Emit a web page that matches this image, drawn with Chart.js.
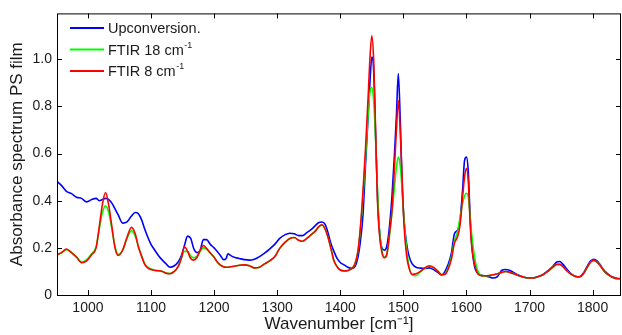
<!DOCTYPE html>
<html lang="en-US">
<head>
<meta charset="utf-8">
<title>Absorbance spectrum PS film</title>
<script src="https://cdn.jsdelivr.net/npm/chart.js@4.4.1/dist/chart.umd.min.js"></script>
<style>
  html, body { margin: 0; padding: 0; background: #fff; }
  #chart { display: block; }
</style>
</head>
<body>
<canvas id="chart" width="622" height="335"></canvas>
<script>
// wavenumber grid [cm-1], shared by the three spectra
const wavenumber = [
  952, 958, 966, 974, 982, 990, 998, 1006, 1013, 1018,
  1023, 1028, 1033, 1038, 1043, 1048, 1055, 1062, 1069, 1075,
  1080, 1085, 1090, 1095, 1100, 1106, 1112, 1118, 1124, 1130,
  1137, 1143, 1148, 1153, 1158, 1163, 1168, 1173, 1178, 1183,
  1188, 1194, 1200, 1205, 1210, 1215, 1219, 1222, 1226, 1232,
  1240, 1248, 1256, 1264, 1272, 1280, 1288, 1296, 1304, 1312,
  1320, 1327, 1334, 1340, 1347, 1354, 1360, 1366, 1371, 1376,
  1380, 1385, 1390, 1395, 1400, 1406, 1412, 1418, 1423, 1428,
  1432, 1436, 1440, 1444, 1447, 1450, 1453, 1456, 1459, 1462,
  1466, 1470, 1474, 1478, 1482, 1486, 1489, 1492, 1495, 1498,
  1501, 1505, 1509, 1514, 1520, 1527, 1534, 1541, 1548, 1555,
  1561, 1566, 1571, 1576, 1581, 1586, 1590, 1594, 1597, 1600,
  1603, 1606, 1609, 1613, 1617, 1622, 1628, 1635, 1642, 1649,
  1656, 1662, 1668, 1675, 1682, 1690, 1698, 1706, 1714, 1722,
  1730, 1737, 1743, 1748, 1753, 1759, 1765, 1772, 1779, 1786,
  1792, 1797, 1802, 1807, 1812, 1818, 1825, 1832, 1840, 1846
];

const upconversion = [
  0.48, 0.465, 0.44, 0.43, 0.415, 0.41, 0.395, 0.405, 0.41, 0.40,
  0.405, 0.41, 0.405, 0.39, 0.365, 0.34, 0.305, 0.31, 0.335, 0.35,
  0.345, 0.32, 0.28, 0.245, 0.215, 0.19, 0.167, 0.148, 0.132, 0.118,
  0.124, 0.14, 0.165, 0.21, 0.25, 0.24, 0.195, 0.18, 0.19, 0.235,
  0.235, 0.215, 0.2, 0.185, 0.168, 0.15, 0.155, 0.175, 0.168, 0.16,
  0.155, 0.15, 0.148, 0.152, 0.163, 0.178, 0.195, 0.215, 0.24, 0.255,
  0.262, 0.26, 0.252, 0.252, 0.265, 0.278, 0.293, 0.308, 0.31, 0.30,
  0.27, 0.22, 0.185, 0.155, 0.138, 0.128, 0.118, 0.113, 0.12, 0.16,
  0.23, 0.34, 0.55, 0.75, 0.9, 1.01, 0.95, 0.68, 0.42, 0.28,
  0.2, 0.19, 0.21, 0.29, 0.42, 0.6, 0.76, 0.94, 0.75, 0.47,
  0.32, 0.22, 0.165, 0.132, 0.118, 0.114, 0.113, 0.115, 0.108, 0.095,
  0.085, 0.1, 0.13, 0.175, 0.26, 0.275, 0.32, 0.45, 0.57, 0.585,
  0.52, 0.32, 0.2, 0.12, 0.095, 0.085, 0.082, 0.078, 0.072, 0.078,
  0.105, 0.108, 0.105, 0.095, 0.085, 0.076, 0.072, 0.073, 0.078, 0.088,
  0.105, 0.122, 0.14, 0.142, 0.13, 0.11, 0.092, 0.08, 0.077, 0.095,
  0.125, 0.145, 0.152, 0.145, 0.128, 0.105, 0.088, 0.076, 0.07, 0.07
];

const ftir18 = [
  0.17, 0.178, 0.192, 0.18, 0.162, 0.14, 0.15, 0.175, 0.205, 0.28,
  0.35, 0.378, 0.35, 0.28, 0.205, 0.172, 0.19, 0.24, 0.272, 0.25,
  0.205, 0.168, 0.133, 0.118, 0.11, 0.105, 0.103, 0.1, 0.093, 0.091,
  0.1, 0.122, 0.155, 0.185, 0.185, 0.165, 0.158, 0.165, 0.185, 0.2,
  0.195, 0.178, 0.16, 0.14, 0.127, 0.12, 0.118, 0.118, 0.12, 0.122,
  0.126, 0.128, 0.124, 0.115, 0.118, 0.132, 0.145, 0.162, 0.198, 0.222,
  0.24, 0.244, 0.232, 0.228, 0.24, 0.256, 0.27, 0.29, 0.298, 0.28,
  0.25, 0.2, 0.145, 0.12, 0.106, 0.102, 0.104, 0.112, 0.13, 0.185,
  0.28, 0.42, 0.58, 0.76, 0.86, 0.88, 0.82, 0.66, 0.45, 0.28,
  0.19, 0.16, 0.175, 0.25, 0.35, 0.46, 0.54, 0.585, 0.55, 0.45,
  0.32, 0.2, 0.12, 0.085, 0.082, 0.098, 0.113, 0.122, 0.115, 0.1,
  0.086, 0.09, 0.115, 0.16, 0.23, 0.27, 0.33, 0.39, 0.42, 0.432,
  0.415, 0.33, 0.24, 0.16, 0.11, 0.085, 0.08, 0.082, 0.085, 0.09,
  0.096, 0.1, 0.097, 0.09, 0.083, 0.076, 0.072, 0.072, 0.078, 0.087,
  0.102, 0.118, 0.13, 0.13, 0.12, 0.103, 0.09, 0.08, 0.077, 0.092,
  0.12, 0.14, 0.147, 0.14, 0.125, 0.102, 0.085, 0.074, 0.069, 0.069
];

const ftir8 = [
  0.172, 0.18, 0.195, 0.18, 0.16, 0.137, 0.145, 0.172, 0.2, 0.29,
  0.385, 0.435, 0.38, 0.29, 0.2, 0.168, 0.19, 0.245, 0.287, 0.26,
  0.205, 0.165, 0.13, 0.115, 0.108, 0.104, 0.103, 0.1, 0.092, 0.09,
  0.1, 0.12, 0.155, 0.205, 0.185, 0.155, 0.148, 0.16, 0.19, 0.21,
  0.198, 0.178, 0.16, 0.14, 0.127, 0.12, 0.118, 0.118, 0.12, 0.122,
  0.126, 0.128, 0.124, 0.115, 0.118, 0.132, 0.145, 0.162, 0.198, 0.222,
  0.24, 0.244, 0.232, 0.228, 0.24, 0.256, 0.27, 0.29, 0.298, 0.28,
  0.25, 0.2, 0.145, 0.12, 0.106, 0.102, 0.104, 0.112, 0.13, 0.185,
  0.29, 0.44, 0.62, 0.83, 1.0, 1.1, 0.995, 0.7, 0.4, 0.26,
  0.18, 0.158, 0.175, 0.26, 0.36, 0.545, 0.7, 0.825, 0.7, 0.5,
  0.3, 0.17, 0.115, 0.088, 0.09, 0.1, 0.115, 0.124, 0.117, 0.1,
  0.086, 0.088, 0.11, 0.15, 0.22, 0.248, 0.3, 0.42, 0.5, 0.538,
  0.48, 0.3, 0.19, 0.13, 0.095, 0.083, 0.082, 0.083, 0.086, 0.09,
  0.096, 0.1, 0.097, 0.09, 0.083, 0.076, 0.072, 0.072, 0.078, 0.087,
  0.102, 0.118, 0.13, 0.13, 0.12, 0.103, 0.09, 0.08, 0.077, 0.092,
  0.12, 0.14, 0.147, 0.14, 0.125, 0.102, 0.085, 0.074, 0.069, 0.069
];

const xTickValues = [1000, 1100, 1200, 1300, 1400, 1500, 1600, 1700, 1800];
const yTickValues = [0, 0.2, 0.4, 0.6, 0.8, 1];

const seriesLabels = ['Upconversion.', 'FTIR 18 cm', 'FTIR 8 cm'];
const seriesSup = ['', '-1', '-1'];
const seriesColors = ['#0000ff', '#00ff00', '#ff0000'];

const FONT = '"Liberation Sans", Arial, Helvetica, sans-serif';
const TEXT = '#1a1a1a';

function toPoints(ys) {
  return wavenumber.map((x, i) => ({ x: x, y: ys[i] }));
}

// matlab style box with inward ticks on all four sides
const boxPlugin = {
  id: 'box',
  afterDraw(chart) {
    const { ctx, chartArea: a, scales } = chart;
    ctx.save();
    ctx.strokeStyle = '#000';
    ctx.lineWidth = 1;
    ctx.strokeRect(a.left + 0.5, a.top + 0.5, a.right - a.left - 1, a.bottom - a.top);
    const len = 5;
    ctx.beginPath();
    scales.x.ticks.forEach(t => {
      const px = Math.round(scales.x.getPixelForValue(t.value)) + 0.5;
      ctx.moveTo(px, a.bottom); ctx.lineTo(px, a.bottom - len);
      ctx.moveTo(px, a.top); ctx.lineTo(px, a.top + len);
    });
    scales.y.ticks.forEach(t => {
      const py = Math.round(scales.y.getPixelForValue(t.value)) + 0.5;
      ctx.moveTo(a.left, py); ctx.lineTo(a.left + len, py);
      ctx.moveTo(a.right, py); ctx.lineTo(a.right - len, py);
    });
    ctx.stroke();
    ctx.restore();
  }
};

// legend inside the top left corner, with superscripts
const legendPlugin = {
  id: 'insideLegend',
  afterDraw(chart) {
    const ctx = chart.ctx;
    const rows = [28, 49.5, 71];
    ctx.save();
    chart.data.datasets.forEach((ds, i) => {
      const y = rows[i];
      ctx.strokeStyle = seriesColors[i];
      ctx.lineWidth = 2;
      ctx.beginPath();
      ctx.moveTo(70, y); ctx.lineTo(104, y);
      ctx.stroke();
      ctx.fillStyle = TEXT;
      ctx.textBaseline = 'middle';
      ctx.font = '14.5px ' + FONT;
      ctx.fillText(seriesLabels[i], 108, y + 1);
      if (seriesSup[i]) {
        const w = ctx.measureText(seriesLabels[i]).width;
        ctx.font = '9px ' + FONT;
        ctx.fillText(seriesSup[i], 108 + w + 0.5, y - 4);
      }
    });
    ctx.restore();
  }
};

const ctx = document.getElementById('chart').getContext('2d');
new Chart(ctx, {
  type: 'line',
  data: {
    datasets: [
      { label: 'Upconversion.', data: toPoints(upconversion), borderColor: seriesColors[0], order: 3 },
      { label: 'FTIR 18 cm-1', data: toPoints(ftir18), borderColor: seriesColors[1], order: 2 },
      { label: 'FTIR 8 cm-1', data: toPoints(ftir8), borderColor: seriesColors[2], order: 1 }
    ]
  },
  options: {
    responsive: false,
    animation: false,
    events: [],
    layout: { padding: { top: 13, right: 1, left: 0, bottom: 0 } },
    elements: {
      line: { borderWidth: 1.6, cubicInterpolationMode: 'monotone', fill: false },
      point: { radius: 0 }
    },
    plugins: { legend: { display: false }, tooltip: { enabled: false } },
    scales: {
      x: {
        type: 'linear',
        min: 951,
        max: 1845,
        grid: { display: false, drawTicks: false },
        border: { display: false },
        afterBuildTicks: s => { s.ticks = xTickValues.map(v => ({ value: v })); },
        ticks: {
          autoSkip: false,
          padding: 5,
          maxRotation: 0,
          color: TEXT,
          font: { family: FONT, size: 14 },
          callback: v => String(v)
        },
        title: {
          display: true,
          text: 'Wavenumber [cm\u207B\u00B9]',
          color: TEXT,
          font: { family: FONT, size: 17 },
          padding: { top: 0, bottom: 0 }
        },
        afterFit: s => { s.height = 40; }
      },
      y: {
        min: 0,
        max: 1.195,
        grid: { display: false, drawTicks: false },
        border: { display: false },
        afterBuildTicks: s => { s.ticks = yTickValues.map(v => ({ value: v })); },
        ticks: {
          autoSkip: false,
          padding: 5,
          color: TEXT,
          font: { family: FONT, size: 14 }
        },
        title: {
          display: true,
          text: 'Absorbance spectrum PS film',
          color: TEXT,
          font: { family: FONT, size: 17 },
          padding: { top: 7, bottom: 0 }
        },
        afterFit: s => { s.width = 57; }
      }
    }
  },
  plugins: [boxPlugin, legendPlugin]
});
</script>
</body>
</html>
